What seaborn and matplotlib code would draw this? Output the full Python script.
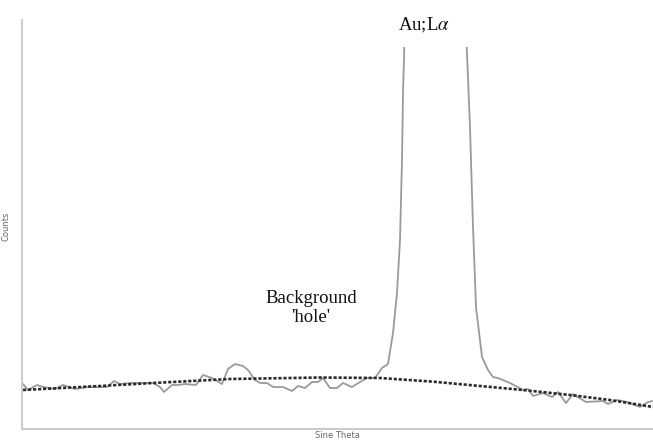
import matplotlib
matplotlib.use("Agg")
import matplotlib.pyplot as plt
from matplotlib.patches import Rectangle
import seaborn as sns
import pandas as pd

# Measured spectrum: sine theta vs counts
sine_theta = [
    0.3115, 0.314, 0.3185, 0.3215, 0.3275, 0.3315, 0.3375, 0.3435, 0.3485, 0.3535,
    0.357, 0.36, 0.365, 0.37, 0.3765, 0.38, 0.382, 0.386, 0.389, 0.3925,
    0.398, 0.4015, 0.406, 0.411, 0.414, 0.4175, 0.4215, 0.424, 0.4275, 0.43,
    0.4335, 0.4365, 0.4415, 0.446, 0.449, 0.4525, 0.456, 0.459, 0.4615, 0.465,
    0.4685, 0.4715, 0.476, 0.48, 0.4835, 0.4875, 0.491, 0.494, 0.4965, 0.4985,
    0.5, 0.501, 0.5015, 0.503, 0.506, 0.51, 0.515, 0.52, 0.525, 0.529,
    0.533, 0.535, 0.5365, 0.538, 0.541, 0.544, 0.5465, 0.549, 0.555, 0.5615,
    0.564, 0.5665, 0.5715, 0.576, 0.579, 0.583, 0.5865, 0.593, 0.6015, 0.604,
    0.6085, 0.6135, 0.62, 0.624, 0.6265,
]
counts = [
    135, 117, 132, 126, 120, 132, 120, 126, 126, 126,
    144, 135, 138, 138, 138, 126, 111, 132, 132, 135,
    132, 162, 153, 135, 180, 195, 189, 177, 147, 138,
    138, 126, 126, 114, 129, 123, 141, 141, 153, 123,
    123, 138, 126, 141, 153, 153, 183, 195, 288, 408,
    567, 807, 1008, 1317, 1900, 2300, 2450, 2400, 2200, 1900,
    1200, 906, 606, 366, 216, 177, 156, 153, 138, 117,
    120, 99, 108, 96, 111, 78, 105, 81, 84, 75,
    87, 81, 66, 81, 84,
]

# Fitted background under the spectrum
bg_theta = [0.3115, 0.35, 0.3765, 0.415, 0.46, 0.49, 0.5165, 0.54, 0.5615, 0.585, 0.605, 0.6265]
bg_counts = [117, 129, 138, 150, 154.5, 153, 142, 129, 117, 102, 87, 66]

spec = pd.DataFrame({"Sine Theta": sine_theta, "Counts": counts})
bg = pd.DataFrame({"Sine Theta": bg_theta, "Counts": bg_counts})

sns.set_style("white")

fig = plt.figure(figsize=(6.53, 4.41), dpi=100)
ax = fig.add_axes([22 / 653, 12 / 441, 631 / 653, 409 / 441])

x_lo, x_hi = 0.311, 0.6265
y_top = 1227
y_clip = 1146

sns.lineplot(data=spec, x="Sine Theta", y="Counts", ax=ax, color="#9a9a9a",
             linewidth=1.3, sort=False)
sns.lineplot(data=bg, x="Sine Theta", y="Counts", ax=ax, color="#2a2a2a",
             linewidth=1.9, linestyle=(0, (1.2, 0.7)), sort=False)

# The peak is cut off below the top of the frame
clip = Rectangle((x_lo, 0), x_hi - x_lo, y_clip, transform=ax.transData,
                 facecolor="none", edgecolor="none")
ax.lines[0].set_clip_path(clip)

ax.set_xlim(x_lo, x_hi)
ax.set_ylim(0, y_top)
ax.set_xticks([])
ax.set_yticks([])

for side in ("top", "right"):
    ax.spines[side].set_visible(False)
for side in ("left", "bottom"):
    ax.spines[side].set_color("#cccccc")
    ax.spines[side].set_linewidth(1.5)

ax.set_xlabel("Sine Theta", fontsize=6, color="#666666")
ax.set_ylabel("Counts", fontsize=6, color="#666666")
ax.yaxis.set_label_coords(-0.018, 0.495)
ax.xaxis.set_label_coords(0.5, -0.004)

plt.rcParams["mathtext.fontset"] = "stix"
ax.text(0.512, 1212, r"Au;L$\alpha$", ha="center", va="center",
        fontsize=13.5, family="Liberation Serif", color="#111111")
ax.text(0.4555, 363, "Background\n'hole'", ha="center", va="center",
        fontsize=13.5, family="Liberation Serif", color="#111111",
        linespacing=1.1)

fig.savefig("out.png", dpi=100)
